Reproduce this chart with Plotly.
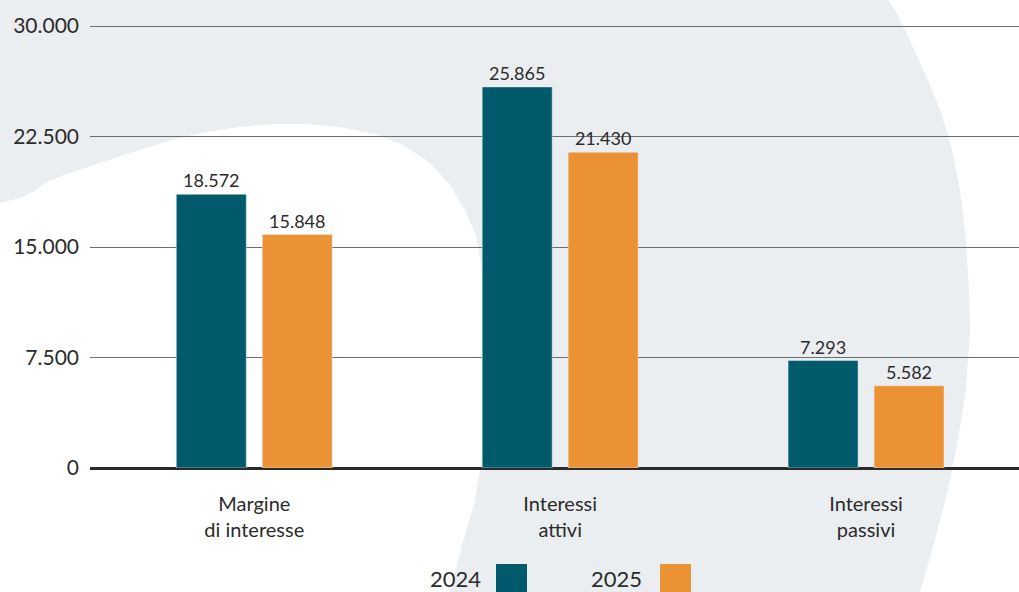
import plotly.graph_objects as go

# Data
categories = ["Margine<br>di interesse", "Interessi<br>attivi", "Interessi<br>passivi"]
values_2024 = [18572, 25865, 7293]
values_2025 = [15848, 21430, 5582]
y_ticks = [0, 7500, 15000, 22500, 30000]

TEAL = "#005a6b"
ORANGE = "#eb9234"
BG_GRAY = "#ebeef1"
TEXT = "#2b2b2b"
FONT = "Lato, 'Open Sans', sans-serif"

W, H = 1019, 592
L, R, T, B = 90, 0, 24, 124
PW, PH = W - L - R, H - T - B
Y_TOP = 30000 * PH / 442  # keep 30.000 line at y=26 px


def px(x):
    return (x - L) / PW


def py(y):
    return (H - B - y) / PH


# decorative background blob (pixel outline)
blob = [
    (0, 0), (888, 0), (898, 15), (912, 45), (928, 80), (942, 115), (952, 150),
    (960, 190), (966, 240), (969, 290), (970, 330), (966, 390), (958, 440),
    (948, 490), (935, 540), (920, 592), (450, 592), (462, 545), (474, 505),
    (481, 465), (484, 420), (485, 370), (484, 320), (482, 270), (476, 235),
    (465, 210), (450, 185), (430, 163), (405, 146), (375, 134), (340, 127),
    (305, 124), (273, 124), (240, 127), (200, 133), (165, 142), (133, 152),
    (100, 163), (67, 174), (45, 183), (33, 192), (20, 198), (0, 203),
]
blob_path = "M " + " L ".join(f"{px(x):.4f},{py(y):.4f}" for x, y in blob) + " Z"

fig = go.Figure()
fig.add_trace(go.Bar(
    x=categories, y=values_2024, name="2024", marker_color=TEAL,
    texttemplate="%{y:,}", textposition="outside", cliponaxis=False,
    textfont=dict(size=18, color=TEXT, family=FONT),
))
fig.add_trace(go.Bar(
    x=categories, y=values_2025, name="2025", marker_color=ORANGE,
    texttemplate="%{y:,}", textposition="outside", cliponaxis=False,
    textfont=dict(size=18, color=TEXT, family=FONT),
))

shapes = [dict(type="path", path=blob_path, xref="paper", yref="paper",
               fillcolor=BG_GRAY, line_width=0, layer="below")]
annotations = []
# custom legend: label left of swatch
for label, color, text_right, sq_left in [("2024", TEAL, 483, 496), ("2025", ORANGE, 644, 660)]:
    annotations.append(dict(
        x=px(text_right), y=py(578), xref="paper", yref="paper", text=label,
        showarrow=False, xanchor="right", yanchor="middle",
        font=dict(size=22, color=TEXT, family=FONT),
    ))
    shapes.append(dict(type="rect", xref="paper", yref="paper",
                       x0=px(sq_left), x1=px(sq_left + 31), y0=py(596), y1=py(564),
                       fillcolor=color, line_width=0))

fig.update_layout(
    width=W, height=H,
    margin=dict(l=L, r=R, t=T, b=B),
    paper_bgcolor="white", plot_bgcolor="rgba(0,0,0,0)",
    barmode="group", bargap=0.438, bargroupgap=0.186,
    separators=",.",
    showlegend=False,
    shapes=shapes, annotations=annotations,
    font=dict(family=FONT, color=TEXT),
)
fig.update_xaxes(
    range=[-0.537, 2.5], showgrid=False, showline=False,
    ticklabelstandoff=22, tickfont=dict(size=20, color=TEXT, family=FONT),
)
fig.update_yaxes(
    range=[0, Y_TOP], tickvals=y_ticks, tickformat=",",
    showgrid=True, gridcolor="#6d6d6d", gridwidth=1.2,
    zeroline=True, zerolinecolor="#2b2b2b", zerolinewidth=2.5,
    ticklabelstandoff=10, tickfont=dict(size=21, color=TEXT, family=FONT),
)

fig.write_html(
    "out.html",
    config={"displayModeBar": False},
    post_script="document.body.style.margin='0px';",
)
